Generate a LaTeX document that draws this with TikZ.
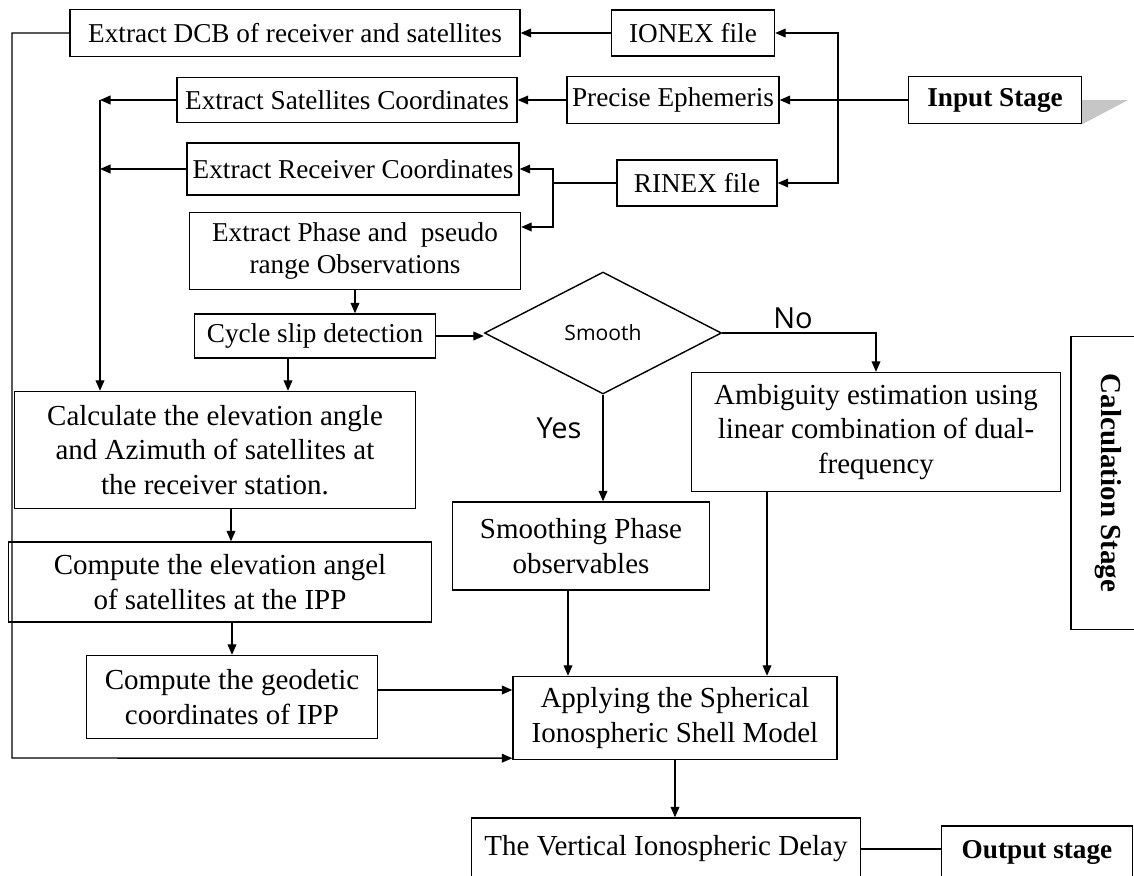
\documentclass[tikz,border=0pt]{standalone}
\usepackage{fontspec}
\setmainfont{Liberation Serif}
\newfontfamily\labelfont{Open Sans}
\usetikzlibrary{arrows.meta,shapes.geometric}
\begin{document}
\begin{tikzpicture}[x=0.02cm, y=-0.02cm, line width=0.8pt,
	box/.style={draw, align=center, inner sep=2pt, font=\fontsize{15.5}{18}\selectfont},
	bigbox/.style={draw, align=center, inner sep=2pt, font=\fontsize{16.5}{19.5}\selectfont},
	stagebox/.style={draw, align=center, inner sep=2pt, font=\fontsize{15.5}{18}\selectfont\bfseries},
	decision/.style={draw, diamond, inner sep=0pt, font=\labelfont\fontsize{12}{14}\selectfont},
	answer/.style={font=\labelfont\fontsize{16.5}{20}\selectfont},
	arr/.style={-{Triangle[length=6pt, width=5pt]}}]
	\useasboundingbox (0,0) rectangle (1134,876);
	\node[box, minimum width=9cm, minimum height=0.94cm] (dcb) at (295,33) {Extract DCB of receiver and satellites};
	\node[box, minimum width=3.26cm, minimum height=0.92cm] (ionex) at (693,33) {IONEX file};
	\node[box, minimum width=6.8cm, minimum height=0.9cm] (sat) at (347,100) {Extract Satellites Coordinates};
	\node[box, minimum width=4.24cm, minimum height=0.94cm] (eph) at (673,100) {Precise Ephemeris};
	\node[stagebox, minimum width=3.46cm, minimum height=0.94cm] (input) at (995,100) {Input Stage};
	\node[box, minimum width=6.64cm, minimum height=1.04cm] (rec) at (353,169) {Extract Receiver Coordinates};
	\node[box, minimum width=3.2cm, minimum height=0.92cm] (rinex) at (697,183) {RINEX file};
	\node[box, minimum width=6.62cm, minimum height=1.54cm] (phase) at (355,251) {Extract Phase and\ \ pseudo\\range Observations};
	\node[box, minimum width=4.82cm, minimum height=0.88cm] (cycle) at (315,336) {Cycle slip detection};
	\node[decision, minimum width=4.74cm, minimum height=2.44cm] (smooth) at (603,333) {Smooth};
	\node[bigbox, minimum width=7.38cm, minimum height=2.38cm] (ambig) at (876,432) {Ambiguity estimation using\\linear combination of dual-\\frequency};
	\node[bigbox, minimum width=8.02cm, minimum height=2.34cm] (calc) at (215,450) {Calculate the elevation angle\\and Azimuth of satellites at\\the receiver station.};
	\node[bigbox, minimum width=8.46cm, minimum height=1.6cm] (elev) at (220,582) {Compute the elevation angel\\of satellites at the IPP};
	\node[bigbox, minimum width=5.14cm, minimum height=1.76cm] (smph) at (581,546) {Smoothing Phase\\observables};
	\node[bigbox, minimum width=5.82cm, minimum height=1.66cm] (geod) at (232,697) {Compute the geodetic\\coordinates of IPP};
	\node[bigbox, minimum width=6.48cm, minimum height=1.66cm] (apply) at (675,718) {Applying the Spherical\\Ionospheric Shell Model};
	\node[bigbox, minimum width=7.78cm, minimum height=1.24cm] (vdelay) at (666,849) {The Vertical Ionospheric Delay};
	\node[stagebox, minimum width=3.82cm, minimum height=1.04cm] (output) at (1037,852) {Output stage};
	\node[stagebox, rotate=-90, minimum width=5.86cm, minimum height=1.48cm, font=\fontsize{16.5}{19}\selectfont\bfseries] (calcst) at (1108,483) {Calculation Stage};
	\node[answer] (no) at (793,318) {No};
	\node[answer] (yes) at (559,428) {Yes};
	\fill[gray!45] (input.east) -- ++(0.92cm,0) -- (input.south east) -- cycle;
	\coordinate (inbus) at (838,100);
	\coordinate (rbus) at (553,183);
	\coordinate (vbus) at (100,100);
	\coordinate (dcbturn) at (12,758);
	\draw[arr] (input) -- (eph);
	\draw[arr] (inbus) |- (ionex);
	\draw[arr] (inbus) |- (rinex);
	\draw[arr] (ionex) -- (dcb);
	\draw[arr] (eph) -- (sat);
	\draw (rinex) -- (rbus);
	\draw[arr] (rbus) |- (rec);
	\draw[arr] (rbus) |- ([yshift=0.48cm]phase.east);
	\draw[arr] (sat) -- (vbus);
	\draw[arr] (rec.west) -- (rec.west -| vbus);
	\draw[arr] (vbus) -- (vbus |- calc.north);
	\draw[arr] (dcb) -| (dcbturn) -- ([yshift=0.04cm]apply.south west);
	\draw[arr] (phase.south) -- (phase.south |- cycle.north);
	\draw[arr] (cycle) -- (cycle -| smooth.west);
	\draw[arr] ([xshift=-0.54cm]cycle.south) -- ([xshift=-0.54cm]cycle.south |- calc.north);
	\draw[arr] (smooth.east) -| (ambig.north);
	\draw[arr] (smooth.south) -- (smooth.south |- smph.north);
	\draw[arr] ([xshift=0.32cm]calc.south) -- ([xshift=0.32cm]calc.south |- elev.north);
	\draw[arr] (geod.north |- elev.south) -- (geod.north);
	\draw[arr] ([yshift=0.14cm]geod.east) -- ([yshift=0.14cm]geod.east -| apply.west);
	\draw[arr] ([xshift=-0.26cm]smph.south) -- ([xshift=-0.26cm]smph.south |- apply.north);
	\draw[arr] ([xshift=-2.18cm]ambig.south) -- ([xshift=-2.18cm]ambig.south |- apply.north);
	\draw[arr] (apply.south) -- (apply.south |- vdelay.north);
	\draw (vdelay.east) -- (vdelay.east -| output.west);
\end{tikzpicture}
\end{document}
